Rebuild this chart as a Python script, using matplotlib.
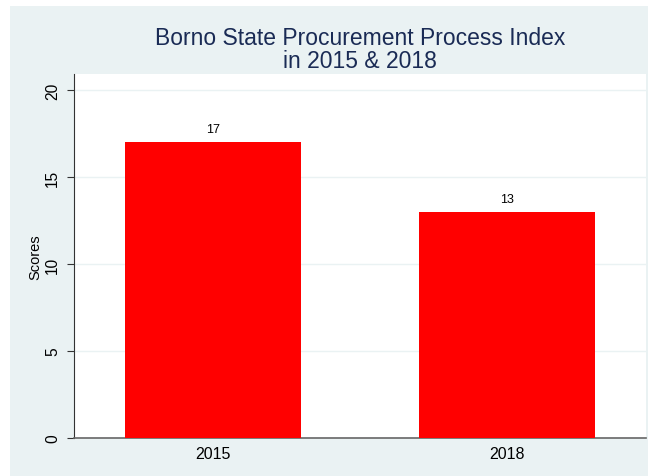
import matplotlib
matplotlib.use("Agg")
import matplotlib.pyplot as plt
from matplotlib.patches import Rectangle

categories = ["2015", "2018"]
scores = [17, 13]
yticks = [0, 5, 10, 15, 20]

plt.rcParams['font.family'] = ['Liberation Sans', 'DejaVu Sans']

W, H = 648, 477
fig = plt.figure(figsize=(W/100, H/100), dpi=100)
fig.patch.set_facecolor("white")
bg = Rectangle((10/W, 0), 1 - 10/W, (H - 7)/H, transform=fig.transFigure,
               facecolor="#eaf2f3", edgecolor="none", zorder=-10)
fig.patches.append(bg)

ax = fig.add_axes([74/W, 1 - 439/H, (646 - 74)/W, (439 - 75)/H])
ax.set_zorder(1)
ax.set_facecolor("white")
x = list(range(len(categories)))
bars = ax.bar(x, scores, width=0.6, color="#ff0000", zorder=3)
for xi, v in zip(x, scores):
    ax.text(xi, v + 0.4, str(v), ha="center", va="bottom", fontsize=9, color="black")

ax.set_xlim(-0.475, 1.475)
ax.set_ylim(0, 20.92)
ax.set_xticks(x)
ax.set_xticklabels(categories, fontsize=11.5)
ax.tick_params(axis="x", length=0, pad=6)
ax.set_yticks(yticks)
ax.set_yticklabels([str(t) for t in yticks], fontsize=11.2, rotation=90, va="center")
ax.tick_params(axis="y", length=5, width=0.8, color="#333333", pad=5)
ax.grid(axis="y", color="#eaf2f3", linewidth=1, zorder=0)
ax.set_axisbelow(True)
for s in ["top", "right"]:
    ax.spines[s].set_visible(False)
ax.spines["left"].set_color("#333333")
ax.spines["left"].set_linewidth(0.8)
ax.spines["bottom"].set_color("#666666")
ax.spines["bottom"].set_linewidth(1.2)
ax.set_ylabel("Scores", fontsize=10.5)
ax.yaxis.set_label_coords(-0.056, 0.5)

fig.text(360/W, 1 - 50/H, "Borno State Procurement Process Index\nin 2015 & 2018",
         ha="center", va="center", fontsize=16.5, color="#1a2b55", linespacing=1.0)

fig.savefig("out.png", dpi=100)
